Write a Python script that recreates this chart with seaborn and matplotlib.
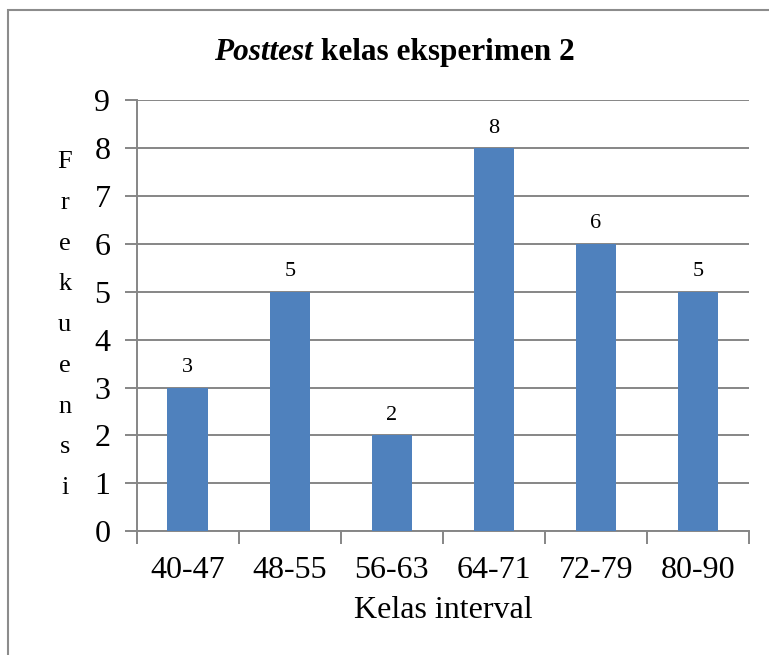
import matplotlib
matplotlib.use("Agg")
import matplotlib.pyplot as plt
import seaborn as sns
import pandas as pd
from matplotlib.patches import Rectangle

# data
kelas = ["40-47", "48-55", "56-63", "64-71", "72-79", "80-90"]
frekuensi = [3, 5, 2, 8, 6, 5]

sns.set_style("white")
plt.rcParams['font.family'] = ['Liberation Serif', 'DejaVu Serif']
plt.rcParams['text.color'] = 'black'
plt.rcParams['axes.labelcolor'] = 'black'

df = pd.DataFrame({'kelas': kelas, 'frekuensi': frekuensi})

fig = plt.figure(figsize=(7.69, 6.55), dpi=100)
ax = fig.add_axes([0.178, 0.189, 0.796, 0.658])

grid_col = '#868686'
sns.barplot(data=df, x='kelas', y='frekuensi', color='#4F81BD', saturation=1,
            width=0.4, linewidth=0, ax=ax, zorder=3)

ax.set_ylim(0, 9)
ax.set_xlim(-0.5, len(kelas) - 0.5)
ax.set_yticks(range(0, 10))
ax.yaxis.grid(True, color=grid_col, linewidth=1.4, zorder=0)
ax.set_axisbelow(True)
for s in ['top', 'right']:
    ax.spines[s].set_visible(False)
for s in ['left', 'bottom']:
    ax.spines[s].set_color(grid_col)
    ax.spines[s].set_linewidth(1.4)

# x ticks between categories, labels at centres
ax.set_xticks([i - 0.5 for i in range(len(kelas) + 1)], minor=False)
ax.set_xticklabels([])
ax.set_xticks(range(len(kelas)), minor=True)
ax.set_xticklabels(kelas, minor=True, fontsize=23)
ax.tick_params(axis='x', which='major', length=9, width=1.4, color=grid_col, direction='out')
ax.tick_params(axis='x', which='minor', length=0, pad=18, labelcolor='black')
ax.tick_params(axis='y', length=9, width=1.4, color=grid_col, labelsize=23, pad=10,
               direction='out', labelcolor='black')
ax.tick_params(axis='both', bottom=True, left=True)

for i, v in enumerate(frekuensi):
    ax.text(i, v + 0.22, str(v), ha='center', va='bottom', fontsize=16)

ax.set_xlabel('Kelas interval', fontsize=23, labelpad=8)
ax.set_ylabel('\n'.join('Frekuensi'), rotation=0, fontsize=19, linespacing=2.1,
              va='center')
ax.yaxis.set_label_coords(-0.118, 0.478)

# title: italic + bold parts
fig.text(0.407, 1 - 60 / 655, 'Posttest', fontsize=22.5, fontweight='bold',
         fontstyle='italic', ha='right', va='baseline')
fig.text(0.407, 1 - 60 / 655, ' kelas eksperimen 2', fontsize=22.5, fontweight='bold',
         ha='left', va='baseline')

# chart frame
fig.patches.append(Rectangle((8 / 769, -0.05), 1.1, 1 - 10 / 655 + 0.05,
                             transform=fig.transFigure, fill=False,
                             edgecolor='#8c8c8c', linewidth=1.5))

fig.savefig('out.png', dpi=100)
